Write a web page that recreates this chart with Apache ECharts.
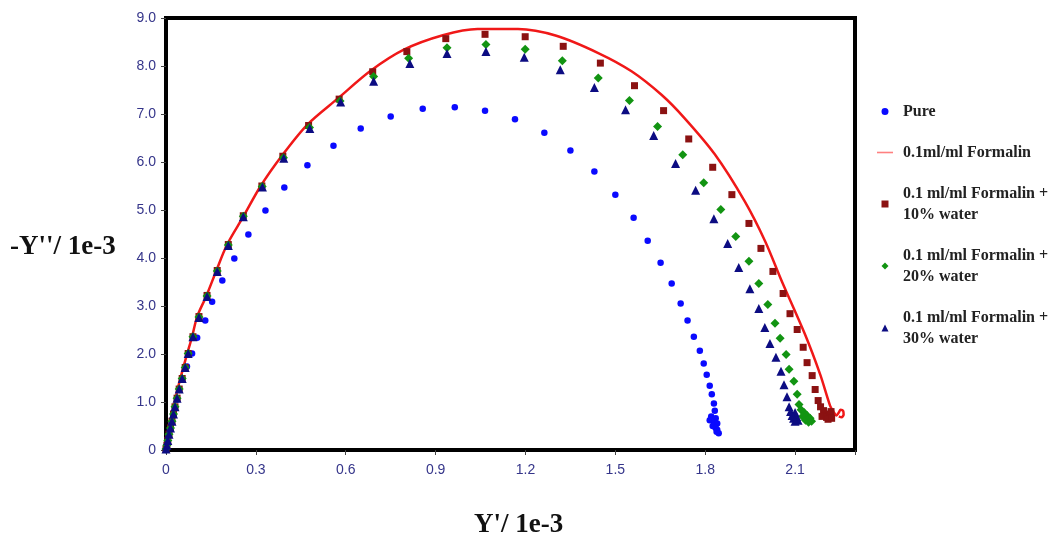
<!DOCTYPE html>
<html>
<head>
<meta charset="utf-8">
<script src="https://cdn.jsdelivr.net/npm/echarts@6/dist/echarts.min.js"></script>
<style>html,body{margin:0;padding:0;background:#fff}#c{width:1060px;height:544px}</style>
</head>
<body>
<div id="c"></div>
<script>
// ---- Data (Y' in 1e-3, -Y'' in 1e-3) ----
const seriesNames = ['Pure', '0.1ml/ml Formalin', '0.1 ml/ml Formalin + 10% water', '0.1 ml/ml Formalin + 20% water', '0.1 ml/ml Formalin + 30% water'];
const legendLabels = ['Pure', '0.1ml/ml Formalin', '0.1 ml/ml Formalin +\n10% water', '0.1 ml/ml Formalin +\n20% water', '0.1 ml/ml Formalin +\n30% water'];
const xTickLabels = ['0', '0.3', '0.6', '0.9', '1.2', '1.5', '1.8', '2.1'];
const yTickLabels = ['0', '1.0', '2.0', '3.0', '4.0', '5.0', '6.0', '7.0', '8.0', '9.0'];

const pureX = [0, 0.002, 0.005, 0.009, 0.013, 0.018, 0.024, 0.030, 0.037, 0.044, 0.054, 0.070, 0.087, 0.104, 0.131, 0.154, 0.188, 0.228, 0.275, 0.332, 0.395, 0.472, 0.559, 0.650, 0.750, 0.857, 0.964, 1.065, 1.165, 1.263, 1.350, 1.430, 1.500, 1.561, 1.608, 1.651, 1.688, 1.718, 1.741, 1.762, 1.782, 1.795, 1.805, 1.815, 1.822, 1.829, 1.832, 1.820, 1.835, 1.815, 1.830, 1.840, 1.825, 1.835, 1.840, 1.838, 1.845];
const pureY = [0, 0.08, 0.18, 0.30, 0.42, 0.56, 0.72, 0.88, 1.05, 1.26, 1.49, 1.74, 2.01, 2.34, 2.70, 3.09, 3.53, 3.99, 4.49, 4.99, 5.47, 5.93, 6.34, 6.70, 6.95, 7.11, 7.14, 7.07, 6.89, 6.61, 6.24, 5.80, 5.32, 4.84, 4.36, 3.90, 3.47, 3.05, 2.70, 2.36, 2.07, 1.80, 1.57, 1.34, 1.16, 0.97, 0.82, 0.70, 0.66, 0.62, 0.58, 0.55, 0.50, 0.46, 0.42, 0.38, 0.35];

const formalinX = [0, 0.008, 0.020, 0.037, 0.047, 0.057, 0.070, 0.087, 0.104, 0.134, 0.167, 0.204, 0.258, 0.315, 0.388, 0.472, 0.573, 0.683, 0.794, 0.924, 1.040, 1.175, 1.303, 1.443, 1.554, 1.654, 1.730, 1.832, 1.932, 2.000, 2.056, 2.133, 2.184, 2.217, 2.228, 2.238, 2.246, 2.252, 2.260, 2.262, 2.255, 2.246];
const formalinY = [0, 0.30, 0.70, 1.22, 1.47, 1.70, 1.99, 2.36, 2.78, 3.20, 3.72, 4.28, 4.86, 5.49, 6.14, 6.78, 7.32, 7.90, 8.34, 8.64, 8.77, 8.77, 8.63, 8.27, 7.89, 7.40, 6.92, 6.16, 5.18, 4.35, 3.51, 2.41, 1.57, 0.92, 0.80, 0.72, 0.78, 0.84, 0.82, 0.74, 0.68, 0.70];

const w10X = [0, 0.003, 0.006, 0.010, 0.015, 0.020, 0.025, 0.030, 0.037, 0.044, 0.054, 0.064, 0.074, 0.090, 0.110, 0.137, 0.171, 0.208, 0.258, 0.320, 0.390, 0.476, 0.578, 0.690, 0.804, 0.934, 1.065, 1.199, 1.326, 1.450, 1.564, 1.661, 1.745, 1.825, 1.889, 1.946, 1.986, 2.026, 2.060, 2.083, 2.107, 2.127, 2.140, 2.157, 2.167, 2.177, 2.185, 2.195, 2.200, 2.190, 2.205, 2.215, 2.220, 2.210, 2.222];
const w10Y = [0.02, 0.10, 0.20, 0.33, 0.46, 0.60, 0.75, 0.90, 1.08, 1.27, 1.49, 1.72, 2.01, 2.36, 2.78, 3.22, 3.74, 4.28, 4.88, 5.50, 6.12, 6.76, 7.31, 7.88, 8.30, 8.57, 8.66, 8.61, 8.41, 8.06, 7.59, 7.07, 6.48, 5.89, 5.32, 4.72, 4.20, 3.72, 3.26, 2.84, 2.51, 2.14, 1.82, 1.55, 1.26, 1.03, 0.90, 0.82, 0.75, 0.70, 0.68, 0.72, 0.80, 0.64, 0.66];

const w20X = [0, 0.003, 0.006, 0.010, 0.015, 0.020, 0.025, 0.030, 0.037, 0.044, 0.054, 0.064, 0.074, 0.090, 0.110, 0.137, 0.171, 0.208, 0.258, 0.321, 0.392, 0.479, 0.581, 0.693, 0.810, 0.938, 1.068, 1.199, 1.323, 1.443, 1.547, 1.641, 1.725, 1.795, 1.852, 1.902, 1.946, 1.979, 2.009, 2.033, 2.050, 2.070, 2.080, 2.096, 2.107, 2.113, 2.120, 2.130, 2.125, 2.140, 2.135, 2.150, 2.145, 2.155];
const w20Y = [0.02, 0.10, 0.20, 0.33, 0.46, 0.60, 0.75, 0.90, 1.08, 1.27, 1.49, 1.72, 2.01, 2.36, 2.77, 3.21, 3.73, 4.27, 4.87, 5.49, 6.09, 6.72, 7.27, 7.78, 8.16, 8.38, 8.45, 8.35, 8.11, 7.75, 7.28, 6.74, 6.15, 5.57, 5.01, 4.45, 3.93, 3.47, 3.03, 2.64, 2.33, 1.99, 1.68, 1.43, 1.16, 0.95, 0.84, 0.78, 0.70, 0.72, 0.62, 0.66, 0.58, 0.60];

const w30X = [0, 0.003, 0.006, 0.010, 0.015, 0.020, 0.025, 0.030, 0.037, 0.044, 0.054, 0.064, 0.074, 0.090, 0.110, 0.137, 0.171, 0.208, 0.258, 0.322, 0.393, 0.480, 0.583, 0.693, 0.814, 0.938, 1.068, 1.196, 1.316, 1.430, 1.534, 1.628, 1.701, 1.768, 1.829, 1.875, 1.912, 1.949, 1.979, 1.999, 2.016, 2.036, 2.053, 2.063, 2.073, 2.080, 2.085, 2.090, 2.100, 2.095, 2.105, 2.110, 2.100];
const w30Y = [0.02, 0.10, 0.20, 0.33, 0.46, 0.60, 0.75, 0.90, 1.08, 1.27, 1.49, 1.72, 2.01, 2.36, 2.76, 3.20, 3.72, 4.26, 4.86, 5.48, 6.08, 6.70, 7.25, 7.68, 8.05, 8.26, 8.30, 8.18, 7.92, 7.55, 7.09, 6.55, 5.97, 5.41, 4.82, 4.30, 3.80, 3.36, 2.95, 2.55, 2.22, 1.93, 1.64, 1.36, 1.11, 0.90, 0.80, 0.72, 0.78, 0.66, 0.70, 0.62, 0.60];

function zip(xs, ys) { return xs.map((x, i) => [x, ys[i]]); }

const labelFont = 'Liberation Sans, Arial, sans-serif';
const serif = 'Liberation Serif, Times New Roman, serif';
const tickColor = '#35358a';

const iconCircle = 'path://M5,0 A5,5 0 1 1 4.99,0 Z';
const iconSquare = 'path://M0,0 L10,0 L10,10 L0,10 Z';
const iconDiamond = 'path://M5,0 L10,5 L5,10 L0,5 Z';
const iconTriangle = 'path://M5,0 L10,10 L0,10 Z';
const iconLine = 'path://M0,0 L20,0 L20,2 L0,2 Z';

const chart = echarts.init(document.getElementById('c'), null, { renderer: 'canvas' });
chart.setOption({
  animation: false,
  backgroundColor: '#fff',
  grid: { left: 166, top: 18, width: 689, height: 432, show: true, borderColor: '#000', borderWidth: 4, backgroundColor: '#fff' },
  xAxis: {
    type: 'value', min: 0, max: 2.3, interval: 0.3,
    axisLine: { show: true, lineStyle: { color: '#000', width: 4 } },
    axisTick: { show: true, inside: false, length: 5, lineStyle: { color: '#444', width: 1 } },
    splitLine: { show: false },
    axisLabel: {
      margin: 13, color: tickColor, fontFamily: labelFont, fontSize: 14,
      formatter: function (v) { const i = Math.round(v / 0.3); return (Math.abs(v - i * 0.3) < 1e-6 && i < xTickLabels.length) ? xTickLabels[i] : ''; }
    }
  },
  yAxis: {
    type: 'value', min: 0, max: 9, interval: 1,
    axisLine: { show: true, lineStyle: { color: '#000', width: 4 } },
    axisTick: { show: true, inside: false, length: 5, lineStyle: { color: '#444', width: 1 } },
    splitLine: { show: false },
    axisLabel: {
      margin: 10, color: tickColor, fontFamily: labelFont, fontSize: 14,
      formatter: function (v) { return yTickLabels[Math.round(v)]; }
    }
  },
  legend: {
    orient: 'vertical', left: 877, top: 101, padding: 0, itemWidth: 16, itemHeight: 7, itemGap: 20,
    symbolKeepAspect: true,
    textStyle: { fontFamily: serif, fontWeight: 'bold', fontSize: 16, color: '#222', lineHeight: 21, padding: [0, 0, 0, 5] },
    formatter: function (name) { return legendLabels[seriesNames.indexOf(name)]; },
    data: [
      { name: seriesNames[0], icon: iconCircle },
      { name: seriesNames[1], icon: iconLine, itemStyle: { color: '#ff8080' } },
      { name: seriesNames[2], icon: iconSquare },
      { name: seriesNames[3], icon: iconDiamond },
      { name: seriesNames[4], icon: iconTriangle }
    ]
  },
  graphic: [
    { type: 'text', left: 10, top: 234, style: { text: "-Y''/ 1e-3", font: 'bold 27px ' + serif, fill: '#111' } },
    { type: 'text', left: 474, top: 512, style: { text: "Y'/ 1e-3", font: 'bold 27px ' + serif, fill: '#111' } }
  ],
  series: [
    { name: seriesNames[0], type: 'scatter', symbol: 'circle', symbolSize: 6.5, itemStyle: { color: '#0a0aff', opacity: 1 }, data: zip(pureX, pureY), z: 3 },
    { name: seriesNames[1], type: 'line', symbol: 'none', smooth: 0.3, lineStyle: { color: '#f01818', width: 2.5 }, itemStyle: { color: '#f01818' }, data: zip(formalinX, formalinY), z: 2 },
    { name: seriesNames[2], type: 'scatter', symbol: 'rect', symbolSize: 7, itemStyle: { color: '#8b1212', opacity: 1 }, data: zip(w10X, w10Y), z: 4 },
    { name: seriesNames[3], type: 'scatter', symbol: 'diamond', symbolSize: 9, itemStyle: { color: '#129412', opacity: 1 }, data: zip(w20X, w20Y), z: 5 },
    { name: seriesNames[4], type: 'scatter', symbol: 'triangle', symbolSize: 9, itemStyle: { color: '#0c0c82', opacity: 1 }, data: zip(w30X, w30Y), z: 6 }
  ]
});
</script>
</body>
</html>
